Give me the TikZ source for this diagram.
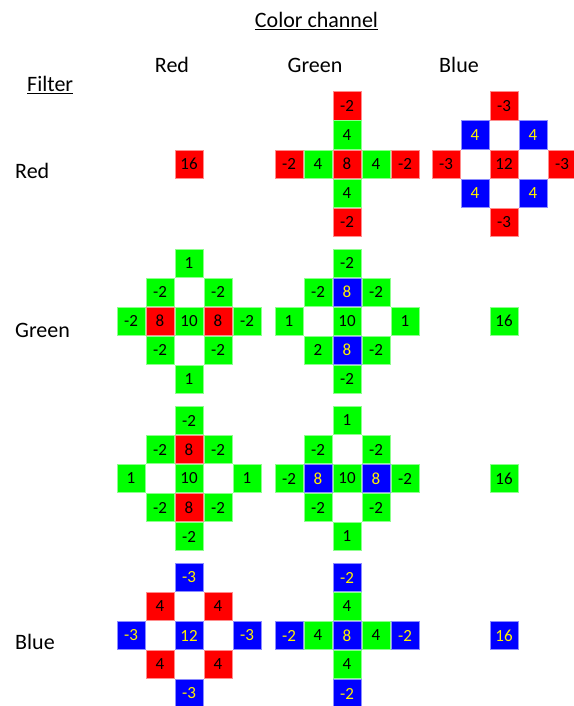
\documentclass[tikz,border=0pt]{standalone}
\usepackage{fontspec}
\setmainfont{Carlito}
\usetikzlibrary{positioning}
\tikzset{
  cell/.style={minimum size=28.4pt, inner sep=0pt, line width=0.6pt, font=\fontsize{17}{17}\selectfont},
  redcell/.style={cell, fill=red, draw=red!45},
  greencell/.style={cell, fill=green, draw=green!45},
  bluecell/.style={cell, fill=blue, draw=blue!45, text=yellow},
  lab/.style={inner sep=0pt, font=\fontsize{22}{26}\selectfont}
}
\newcommand{\kernel}[4]{%
  \foreach \dx/\dy/\c/\v [count=\i] in {#4}
    \node[\c] (#1-\i) at ({#2+29*\dx},{#3+29*\dy}) {\v};
}

\begin{document}
\begin{tikzpicture}[x=1pt, y=-1pt]
  \useasboundingbox (0,0) rectangle (573,706);
  \node[lab, anchor=base] (chan) at (316.5,28) {\underline{Color channel}};
  \node[lab, anchor=base] (chanR) at (172,73) {Red};
  \node[lab, anchor=base] (chanG) at (315,73) {Green};
  \node[lab, anchor=base] (chanB) at (459,73) {Blue};
  \node[lab, anchor=base west] (filt) at (27,92) {\underline{Filter}};
  \node[lab, anchor=base west] (filtR) at (15,178) {Red};
  \node[lab, anchor=base west] (filtG) at (15,337) {Green};
  \node[lab, anchor=base west] (filtB) at (15,649) {Blue};

  \kernel{rr}{189}{164}{0/0/redcell/16}
  \kernel{rg}{347}{164}{0/-2/redcell/-2, 0/-1/greencell/4, -2/0/redcell/-2, -1/0/greencell/4, 0/0/redcell/8,
    1/0/greencell/4, 2/0/redcell/-2, 0/1/greencell/4, 0/2/redcell/-2}
  \kernel{rb}{504}{164}{0/-2/redcell/-3, -1/-1/bluecell/4, 1/-1/bluecell/4, -2/0/redcell/-3, 0/0/redcell/12,
    2/0/redcell/-3, -1/1/bluecell/4, 1/1/bluecell/4, 0/2/redcell/-3}

  \kernel{g1r}{189}{321}{0/-2/greencell/1, -1/-1/greencell/-2, 1/-1/greencell/-2, -2/0/greencell/-2, -1/0/redcell/8,
    0/0/greencell/10, 1/0/redcell/8, 2/0/greencell/-2, -1/1/greencell/-2, 1/1/greencell/-2, 0/2/greencell/1}
  \kernel{g1g}{347}{321}{0/-2/greencell/-2, -1/-1/greencell/-2, 0/-1/bluecell/8, 1/-1/greencell/-2, -2/0/greencell/1,
    0/0/greencell/10, 2/0/greencell/1, -1/1/greencell/2, 0/1/bluecell/8, 1/1/greencell/-2, 0/2/greencell/-2}
  \kernel{g1b}{504}{321}{0/0/greencell/16}

  \kernel{g2r}{189}{478.5}{0/-2/greencell/-2, -1/-1/greencell/-2, 0/-1/redcell/8, 1/-1/greencell/-2, -2/0/greencell/1,
    0/0/greencell/10, 2/0/greencell/1, -1/1/greencell/-2, 0/1/redcell/8, 1/1/greencell/-2, 0/2/greencell/-2}
  \kernel{g2g}{347}{478.5}{0/-2/greencell/1, -1/-1/greencell/-2, 1/-1/greencell/-2, -2/0/greencell/-2, -1/0/bluecell/8,
    0/0/greencell/10, 1/0/bluecell/8, 2/0/greencell/-2, -1/1/greencell/-2, 1/1/greencell/-2, 0/2/greencell/1}
  \kernel{g2b}{504}{478.5}{0/0/greencell/16}

  \kernel{br}{189}{635.5}{0/-2/bluecell/-3, -1/-1/redcell/4, 1/-1/redcell/4, -2/0/bluecell/-3, 0/0/bluecell/12,
    2/0/bluecell/-3, -1/1/redcell/4, 1/1/redcell/4, 0/2/bluecell/-3}
  \kernel{bg}{347}{635.5}{0/-2/bluecell/-2, 0/-1/greencell/4, -2/0/bluecell/-2, -1/0/greencell/4, 0/0/bluecell/8,
    1/0/greencell/4, 2/0/bluecell/-2, 0/1/greencell/4, 0/2/bluecell/-2}
  \kernel{bb}{504}{635.5}{0/0/bluecell/16}
\end{tikzpicture}
\end{document}
